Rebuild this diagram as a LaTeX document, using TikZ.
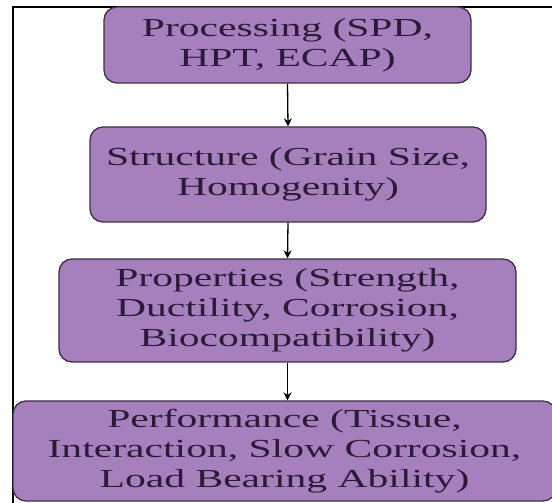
\documentclass[tikz,border=0pt]{standalone}
\usepackage{fontspec}
\setmainfont{Liberation Serif}[FakeStretch=1.6]
\usetikzlibrary{arrows.meta}
\definecolor{boxfill}{HTML}{A680BC}
\definecolor{boxline}{HTML}{3E2E4A}
\definecolor{boxtext}{HTML}{2B1B38}
\begin{document}
\begin{tikzpicture}[x=1pt,y=1pt,
  stage/.style={draw=boxline, line width=1.3pt, fill=boxfill, rounded corners=13pt,
    align=center, inner sep=0pt, text=boxtext,
    font=\fontsize{26}{30}\selectfont},
  flow/.style={-{Stealth[length=8pt,width=8pt]}, line width=1.3pt, black}]
\useasboundingbox (0,0) rectangle (552,503);
\begin{scope}
\clip (0,0) rectangle (552,503);
\draw[line width=1.8pt] (13,0) -- (13,496) -- (552,496);
\node[stage, minimum width=367pt, minimum height=76pt] (p1) at (287.5,458) {Processing (SPD,\\HPT, ECAP)};
\node[stage, minimum width=396pt, minimum height=95pt] (p2) at (288,328.5) {Structure (Grain Size,\\Homogenity)};
\node[stage, minimum width=457pt, minimum height=103pt] (p3) at (287.5,192.5) {Properties (Strength,\\Ductility, Corrosion,\\Biocompatibility)};
\node[stage, minimum width=543pt, minimum height=100pt] (p4) at (284.5,52) {Performance (Tissue,\\Interaction, Slow Corrosion,\\Load Bearing Ability)};
\draw[flow] (p1.south) -- (p2.north);
\draw[flow] (p2.south) -- (p3.north);
\draw[flow] (p3.south) -- (p3.south |- p4.north);
\end{scope}
\end{tikzpicture}
\end{document}
